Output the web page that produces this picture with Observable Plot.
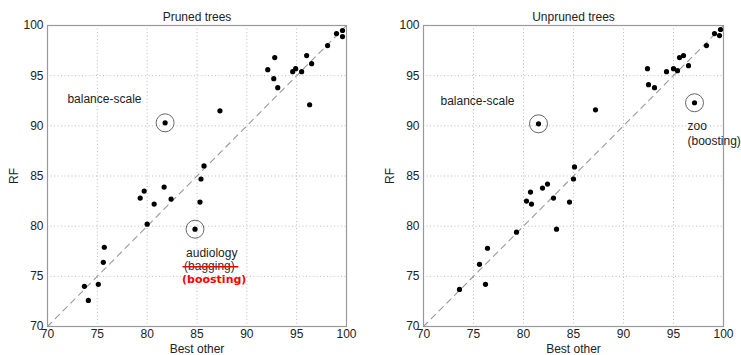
<!DOCTYPE html>
<html><head><meta charset="utf-8">
<script src="https://cdn.jsdelivr.net/npm/d3@7"></script>
<script src="https://cdn.jsdelivr.net/npm/@observablehq/plot@0.6"></script>
<style>
body{margin:0;background:#fff}
#c{display:flex;width:741px;height:355px}
svg{display:block}
</style>
</head><body><div id="c"></div>
<script>
// ---- data ----
const ticks = [70, 75, 80, 85, 90, 95, 100];
const gridTicks = [75, 80, 85, 90, 95];
const diagonal = [70, 100];

const prunedBest = [81.8, 87.3, 92.1, 92.8, 92.7, 93.1, 94.6, 94.9, 95.5, 96.0, 96.5, 96.3, 98.1, 99.0, 99.6, 99.6,
  85.7, 85.4, 85.3, 84.8, 79.3, 79.7, 81.7, 80.7, 82.4, 80.0, 75.7, 75.6, 75.1, 73.7, 74.1];
const prunedRF = [90.3, 91.5, 95.6, 96.8, 94.7, 93.8, 95.4, 95.7, 95.4, 97.0, 96.2, 92.1, 98.0, 99.2, 99.5, 98.9,
  86.0, 84.7, 82.4, 79.7, 82.8, 83.5, 83.9, 82.2, 82.7, 80.2, 77.9, 76.4, 74.2, 74.0, 72.6];
const prunedCircled = [0, 19];

const unprunedBest = [81.5, 87.2, 92.4, 92.5, 93.1, 94.3, 95.0, 95.4, 95.6, 96.0, 96.5, 97.1, 98.3, 99.1, 99.7, 99.6,
  85.1, 85.0, 84.6, 83.3, 83.0, 82.4, 81.9, 80.7, 80.8, 80.3, 79.3, 76.4, 75.6, 76.2, 73.6];
const unprunedRF = [90.2, 91.6, 95.7, 94.1, 93.8, 95.4, 95.7, 95.5, 96.8, 97.0, 96.0, 92.3, 98.0, 99.2, 99.6, 99.0,
  85.9, 84.7, 82.4, 79.7, 82.8, 84.2, 83.8, 83.4, 82.2, 82.5, 79.4, 77.8, 76.2, 74.2, 73.7];
const unprunedCircled = [0, 11];

// annotation labels (data units)
const prunedLabels = ["balance-scale", "audiology"];
const prunedLabelX = [72.0, 83.9];
const prunedLabelY = [92.7, 77.3];
const baggingLabel = "(bagging)";
const baggingX = 83.7, baggingY = 76.0;
const strikeX = [83.6, 89.2], strikeY = 75.95;
const boostingLabel = "(boosting)";
const boostingX = 83.5, boostingY = 74.7;

const unprunedLabels = ["balance-scale", "zoo", "(boosting)"];
const unprunedLabelX = [71.7, 96.4, 96.4];
const unprunedLabelY = [92.5, 90.0, 88.5];

const font = "'Liberation Sans', Arial, Helvetica, sans-serif";

function panel({title, bx, ry, circled, extra, width, marginLeft, marginRight}) {
  const idx = d3.range(bx.length);
  return Plot.plot({
    width, height: 355,
    marginLeft, marginRight, marginTop: 25, marginBottom: 29,
    style: {fontFamily: font, fontSize: "12px", color: "#222", background: "#fff", overflow: "visible"},
    x: {domain: [70, 100]},
    y: {domain: [70, 100]},
    marks: [
      Plot.gridX(gridTicks, {stroke: "#bbb", strokeOpacity: 1, strokeDasharray: "1,2.5"}),
      Plot.gridY(gridTicks, {stroke: "#bbb", strokeOpacity: 1, strokeDasharray: "1,2.5"}),
      Plot.line(diagonal, {x: d => d, y: d => d, stroke: "#999", strokeWidth: 1.1, strokeDasharray: "6,5"}),
      Plot.frame({stroke: "#999", strokeWidth: 1.2}),
      Plot.axisX(ticks, {tickSize: 0, tickPadding: 2.5, label: "Best other", labelAnchor: "center", labelArrow: "none", labelOffset: 26, fontSize: 12, fill: "#222"}),
      Plot.axisY(ticks, {tickSize: 0, tickPadding: 4, label: "RF", labelAnchor: "center", labelArrow: "none", labelOffset: 38, fontSize: 12, fill: "#222"}),
      Plot.text([title], {frameAnchor: "top", dy: -13, fontSize: 12, fill: "#222"}),
      Plot.dot(circled, {x: i => bx[i], y: i => ry[i], r: 9, stroke: "#666", strokeWidth: 1, fill: "none"}),
      Plot.dot(idx, {x: i => bx[i], y: i => ry[i], r: 2.6, fill: "#000", stroke: "none"}),
      ...extra
    ]
  });
}

const left = panel({
  title: "Pruned trees", bx: prunedBest, ry: prunedRF, circled: prunedCircled,
  width: 370, marginLeft: 47, marginRight: 24,
  extra: [
    Plot.text(prunedLabels, {x: (d, i) => prunedLabelX[i], y: (d, i) => prunedLabelY[i], text: d => d, textAnchor: "start", fontSize: 12, fill: "#222"}),
    Plot.text([baggingLabel], {x: () => baggingX, y: () => baggingY, text: d => d, textAnchor: "start", fontSize: 12, fill: "#333"}),
    Plot.ruleY([strikeY], {x1: strikeX[0], x2: strikeX[1], stroke: "#e00", strokeWidth: 1.6}),
    Plot.text([boostingLabel], {x: () => boostingX, y: () => boostingY, text: d => d, textAnchor: "start", fontSize: 11, fontWeight: "bold", fontFamily: "'DejaVu Sans', sans-serif", fill: "#f00"})
  ]
});

const right = panel({
  title: "Unpruned trees", bx: unprunedBest, ry: unprunedRF, circled: unprunedCircled,
  width: 371, marginLeft: 53, marginRight: 18,
  extra: [
    Plot.text(unprunedLabels, {x: (d, i) => unprunedLabelX[i], y: (d, i) => unprunedLabelY[i], text: d => d, textAnchor: "start", fontSize: 12, fill: "#222"})
  ]
});

document.getElementById("c").append(left, right);
</script>
</body></html>
